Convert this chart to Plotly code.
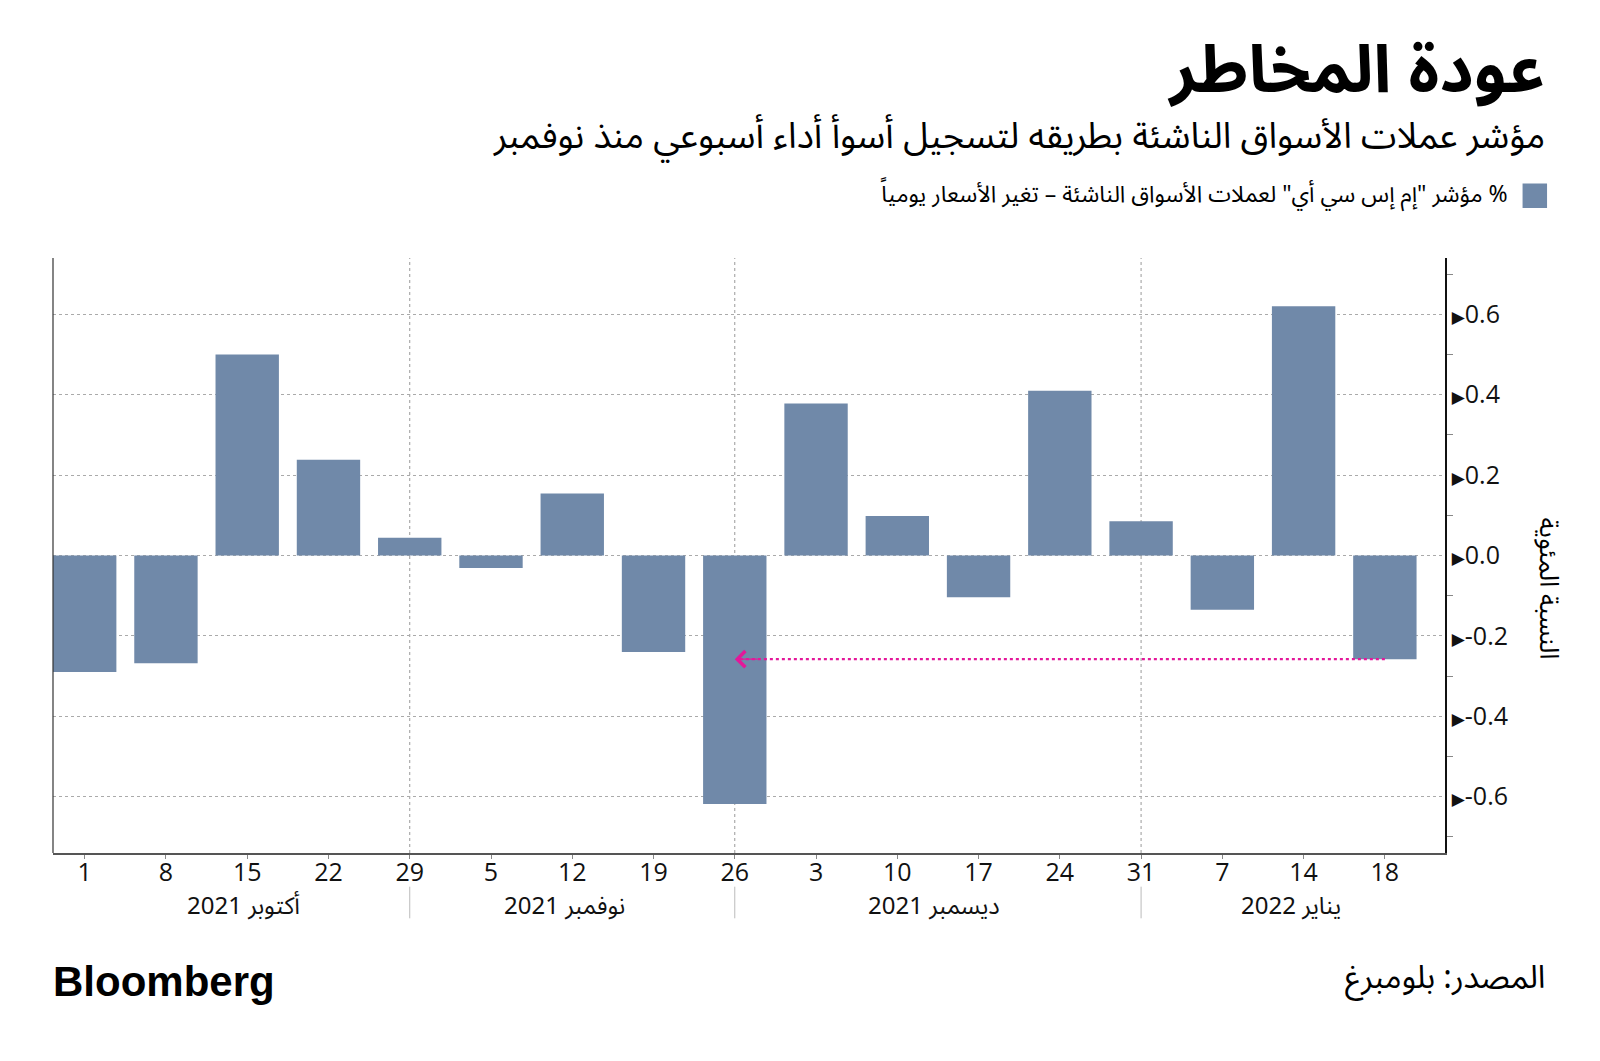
import plotly.graph_objects as go

# ---- data ----
day_labels = ["1", "8", "15", "22", "29", "5", "12", "19", "26", "3", "10", "17", "24", "31", "7", "14", "18"]
values = [-0.29, -0.268, 0.50, 0.238, 0.044, -0.031, 0.154, -0.24, -0.618, 0.378, 0.098, -0.104, 0.41, 0.085, -0.135, 0.62, -0.258]
month_labels = ["أكتوبر 2021", "نوفمبر 2021", "ديسمبر 2021", "يناير 2022"]
month_centers = [1.96, 5.9, 10.45, 14.85]
month_boundaries = [4, 8, 13]
y_ticks = [-0.6, -0.4, -0.2, 0.0, 0.2, 0.4, 0.6]
y_minor = [-0.7, -0.5, -0.3, -0.1, 0.1, 0.3, 0.5, 0.7]

title = "عودة المخاطر"
subtitle = "مؤشر عملات الأسواق الناشئة بطريقه لتسجيل أسوأ أداء أسبوعي منذ نوفمبر"
legend_text = "مؤشر \"إم إس سي أي\" لعملات الأسواق الناشئة – تغير الأسعار يومياً %"
y_title = "النسبة المئوية"
source = "المصدر: بلومبرغ"

BAR = "#7089a9"
PINK = "#e3189a"
AR_FONT = "Noto Sans Arabic, DejaVu Sans, sans-serif"
NUM_FONT = "Open Sans, DejaVu Sans, sans-serif"

# page layout (the page body has an 8px margin; reference measured at 0.98 scale)
W, H = 1584, 1045
S = 0.98
DL, DR, DT, DB = 52, 1416, 253, 836          # plot box as measured on the reference
PL, PR, PT, PB = DL / S, DR / S, DT / S, DB / S


def px(x):
    return (x - DL) / (DR - DL)


def py(y):
    return (DB - y) / (DB - DT)


x_idx = list(range(len(values)))
x_range = [-0.39, len(values) - 1 + 0.74]

fig = go.Figure()
fig.add_trace(go.Bar(x=x_idx, y=values, marker=dict(color=BAR, line=dict(width=0)),
                     width=0.78, showlegend=False, hoverinfo="skip"))

# arrow from last bar level to the minimum bar
last_i = len(values) - 1
min_i = values.index(min(values))
fig.add_trace(go.Scatter(x=[last_i, min_i + 0.03], y=[values[-1], values[-1]], mode="lines",
                         line=dict(color=PINK, width=2.2, dash="dot"), showlegend=False, hoverinfo="skip"))
fig.add_annotation(x=min_i, y=values[-1], ax=min_i + 0.3, ay=values[-1], xref="x", yref="y",
                   axref="x", ayref="y", showarrow=True, arrowhead=4, arrowsize=2.6,
                   arrowwidth=1.2, arrowcolor=PINK, text="")

# vertical dotted month gridlines and separators
for b in month_boundaries:
    fig.add_shape(type="line", x0=b, x1=b, y0=0, y1=1, xref="x", yref="paper",
                  line=dict(color="#999999", width=1, dash="dot"), layer="below")
    fig.add_shape(type="line", x0=b, x1=b, y0=py(869), y1=py(900), xref="x", yref="paper",
                  line=dict(color="#bbbbbb", width=1))
for lbl, c in zip(month_labels, month_centers):
    fig.add_annotation(x=c, y=py(888), xref="x", yref="paper", text=lbl, showarrow=False,
                       font=dict(family=AR_FONT, size=24, color="#111111"), yanchor="middle")

# left spine
fig.add_shape(type="line", x0=0, x1=0, y0=0, y1=1, xref="paper", yref="paper",
              line=dict(color="#333333", width=1.2))

# titles
fig.add_annotation(x=px(1516), y=py(70), xref="paper", yref="paper", text="<b>" + title + "</b>",
                   showarrow=False, xanchor="right", yanchor="middle",
                   font=dict(family=AR_FONT, size=66, color="#000000"))
fig.add_annotation(x=px(1516), y=py(134), xref="paper", yref="paper", text=subtitle,
                   showarrow=False, xanchor="right", yanchor="middle",
                   font=dict(family=AR_FONT, size=36, color="#000000"))
fig.add_annotation(x=px(1480), y=py(191), xref="paper", yref="paper", text=legend_text,
                   showarrow=False, xanchor="right", yanchor="middle",
                   font=dict(family=AR_FONT, size=23, color="#000000"))
fig.add_shape(type="rect", x0=px(1492), x1=px(1516), y0=py(204), y1=py(180),
              xref="paper", yref="paper", line=dict(width=0), fillcolor=BAR)
fig.add_annotation(x=px(1517), y=py(577), xref="paper", yref="paper", text=y_title, showarrow=False,
                   textangle=90, xanchor="center", yanchor="middle",
                   font=dict(family=AR_FONT, size=26, color="#000000"))
fig.add_annotation(x=px(1516), y=py(958), xref="paper", yref="paper", text=source,
                   showarrow=False, xanchor="right", yanchor="middle",
                   font=dict(family=AR_FONT, size=32, color="#000000"))
fig.add_annotation(x=px(50), y=py(962), xref="paper", yref="paper", text="<b>Bloomberg</b>",
                   showarrow=False, xanchor="left", yanchor="middle",
                   font=dict(family="Liberation Sans, Arial, sans-serif", size=42, color="#000000"))

fig.update_layout(
    width=W, height=H,
    margin=dict(l=PL - 8, r=W - (PR - 8), t=PT - 8, b=H - (PB - 8)),
    paper_bgcolor="white", plot_bgcolor="white",
    xaxis=dict(range=x_range, tickmode="array", tickvals=x_idx, ticktext=day_labels,
               showgrid=False, zeroline=False, showline=True, linecolor="#555555", linewidth=1.5,
               ticks="outside", ticklen=4, tickcolor="#888888", ticklabelstandoff=-8,
               tickfont=dict(family=NUM_FONT, size=25, color="#111111")),
    yaxis=dict(range=[-0.74, 0.74], side="right", tickmode="array", tickvals=y_ticks,
               ticktext=["<span style='font-size:17px'>▶</span>" + f"{v:.1f}" for v in y_ticks],
               ticks="", ticklabelstandoff=0,
               showgrid=True, gridcolor="#aaaaaa", griddash="dot", gridwidth=1,
               zeroline=False, showline=True, linecolor="#111111", linewidth=1.5,
               minor=dict(tickvals=y_minor, ticks="outside",
                          ticklen=6, tickcolor="#888888", showgrid=False),
               tickfont=dict(family=NUM_FONT, size=25, color="#111111")),
)

fig.write_html("out.html")
